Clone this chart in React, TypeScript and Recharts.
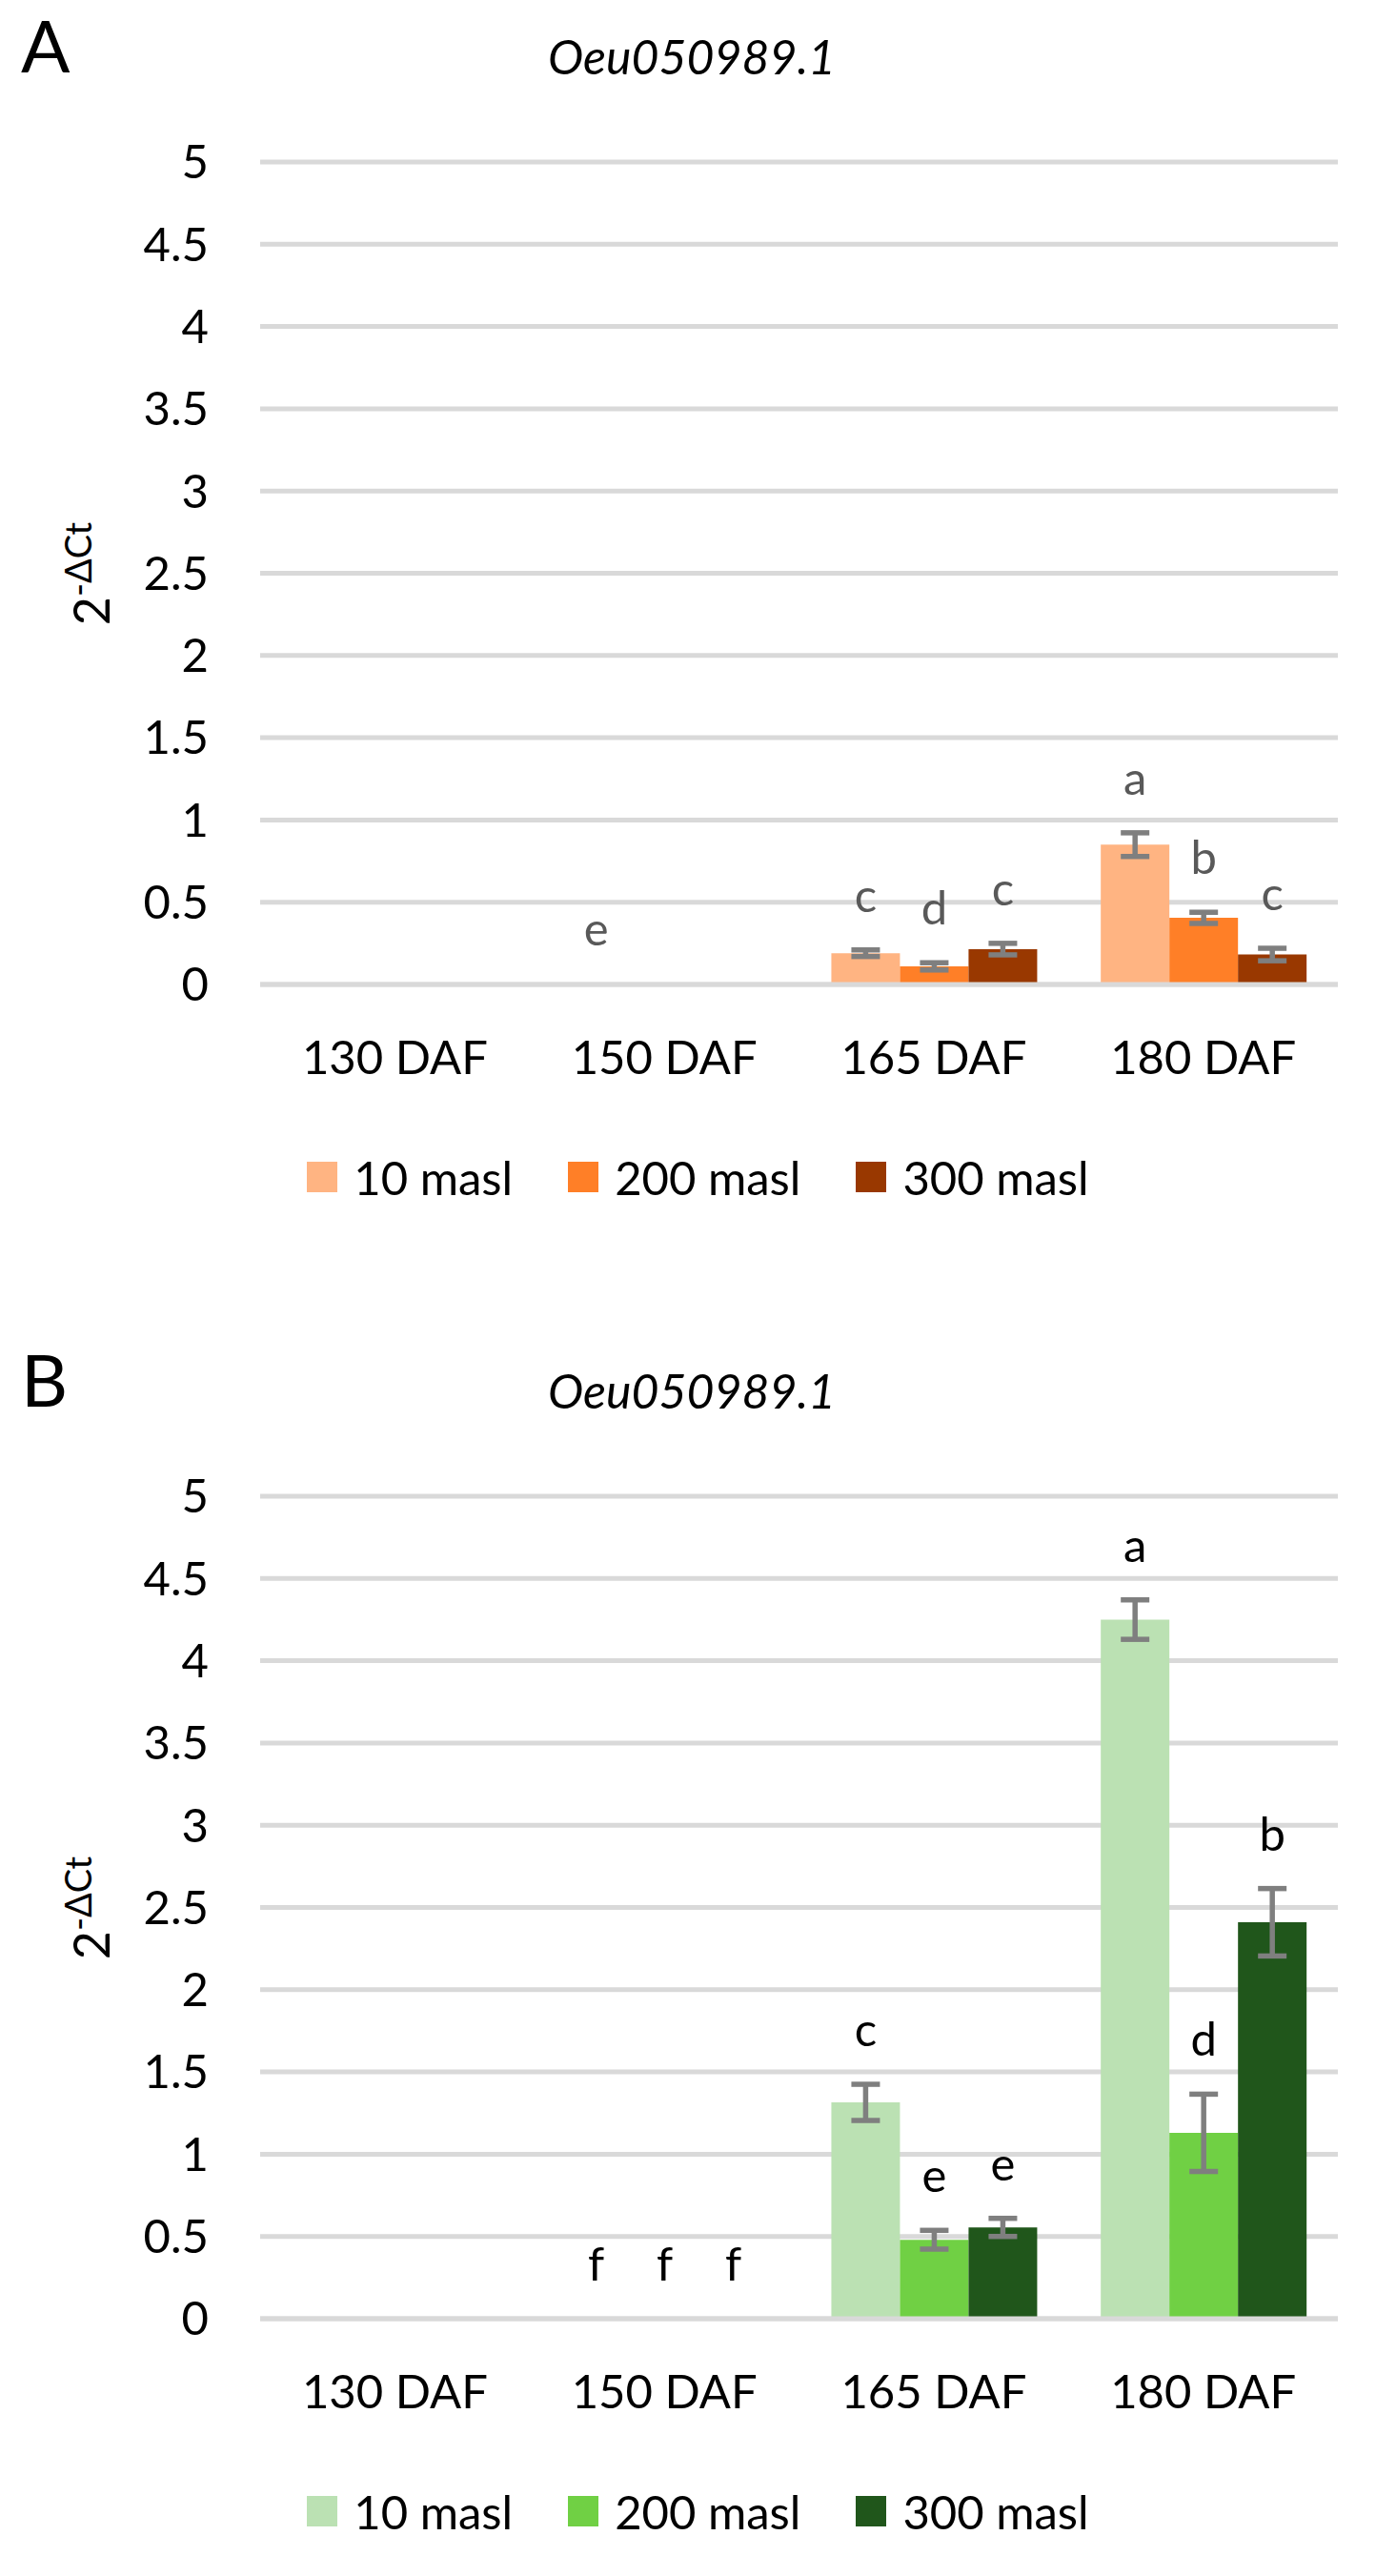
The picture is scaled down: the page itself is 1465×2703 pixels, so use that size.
import React from "react";
import {
  BarChart,
  Bar,
  XAxis,
  YAxis,
  CartesianGrid,
  ErrorBar,
  LabelList,
  Legend,
  ReferenceLine,
} from "recharts";

const CATEGORIES = ["130 DAF", "150 DAF", "165 DAF", "180 DAF"];
const SERIES = ["10 masl", "200 masl", "300 masl"];
const Y_TICKS = [0, 0.5, 1, 1.5, 2, 2.5, 3, 3.5, 4, 4.5, 5];
const GENE = "Oeu050989.1";

// panel A
const A_10 = [0, 0.005, 0.19, 0.85];
const A_10_ERR = [null, null, 0.02, 0.072];
const A_10_LET = ["", "e", "c", "a"];
const A_200 = [0, 0, 0.11, 0.405];
const A_200_ERR = [null, null, 0.022, 0.034];
const A_200_LET = ["", "", "d", "b"];
const A_300 = [0, 0, 0.215, 0.182];
const A_300_ERR = [null, null, 0.035, 0.038];
const A_300_LET = ["", "", "c", "c"];

// panel B
const B_10 = [0, 0, 1.315, 4.25];
const B_10_ERR = [null, null, 0.11, 0.12];
const B_10_LET = ["", "f", "c", "a"];
const B_200 = [0, 0, 0.48, 1.13];
const B_200_ERR = [null, null, 0.057, 0.235];
const B_200_LET = ["", "f", "e", "d"];
const B_300 = [0, 0, 0.555, 2.41];
const B_300_ERR = [null, null, 0.055, 0.205];
const B_300_LET = ["", "f", "e", "b"];

const COLORS_A = ["#FFB482", "#FF7F27", "#993800"];
const COLORS_B = ["#BBE1B3", "#70D044", "#20561B"];

const FONT = "Lato, 'Open Sans', sans-serif";
const FS = 49;

function buildRows(vals: number[][], errs: (number | null)[][], lets: string[][]) {
  return CATEGORIES.map((cat, i) => ({
    cat,
    v0: vals[0][i],
    v1: vals[1][i],
    v2: vals[2][i],
    e0: errs[0][i],
    e1: errs[1][i],
    e2: errs[2][i],
    l0: lets[0][i],
    l1: lets[1][i],
    l2: lets[2][i],
  }));
}

const makeLetter = (errs: (number | null)[], vals: number[], color: string) => (props: any) => {
  const vb = props.viewBox || props;
  const { x, y, width, height } = vb;
  const idx = props.index;
  const letter = props.value;
  if (!letter) return null;
  const v = vals[idx];
  const e = errs[idx] ?? 0;
  const pxPerUnit = v > 0 ? height / v : 0;
  // zero bars get a 1px minPointSize; anchor their letter on the baseline
  const top = v > 0 ? y - e * pxPerUnit : y + height;
  return (
    <text x={x + width / 2} y={top - 40} textAnchor="middle" fontSize={FS} fill={color} fontFamily={FONT}>
      {letter}
    </text>
  );
};

const YLabel = () => (
  <text transform="rotate(-90, 115, 602)" x={115} y={602} textAnchor="middle" fontFamily={FONT} fill="#000">
    <tspan fontSize={52}>2</tspan>
    <tspan fontSize={38} dy={-19}>-ΔCt</tspan>
  </text>
);

const renderLegend = (props: any) => (
  <div style={{ display: "flex", justifyContent: "center", gap: 58, fontFamily: FONT, fontSize: FS }}>
    {(props.payload || []).map((e: any) => (
      <div key={e.value} style={{ display: "flex", alignItems: "center", height: 60 }}>
        <span style={{ width: 32, height: 32, background: e.color, marginRight: 17, display: "inline-block" }} />
        <span style={{ color: "#000", lineHeight: "60px" }}>{e.value}</span>
      </div>
    ))}
  </div>
);

interface PanelProps {
  letter: string;
  rows: any[];
  colors: string[];
  vals: number[][];
  errs: (number | null)[][];
  letterColor: string;
}

function Panel({ letter, rows, colors, vals, errs, letterColor }: PanelProps) {
  return (
    <div style={{ position: "relative", width: 1465, height: 1400 }}>
      <svg width={1465} height={120} style={{ position: "absolute", left: 0, top: 0 }}>
        <text x={22} y={76} fontSize={76} fontFamily={FONT} fill="#000">
          {letter}
        </text>
        <text x={726} y={78} fontSize={50} fontStyle="italic" textAnchor="middle" fontFamily={FONT} fill="#000">
          {GENE}
        </text>
      </svg>
      <BarChart
        width={1465}
        height={1300}
        data={rows}
        margin={{ top: 170, right: 61, left: 173, bottom: 147 }}
        barCategoryGap="12%"
        barGap={0}
        style={{ position: "absolute", left: 0, top: 0 }}
      >
        <CartesianGrid vertical={false} stroke="#d9d9d9" strokeWidth={5} />
        <XAxis
          dataKey="cat"
          axisLine={false}
          tickLine={false}
          tickSize={0}
          tickMargin={59}
          height={120}
          interval={0}
          tick={{ fill: "#000", fontSize: FS, fontFamily: FONT }}
        />
        <YAxis
          domain={[0, 5]}
          ticks={Y_TICKS}
          axisLine={false}
          tickLine={false}
          tickSize={0}
          tickMargin={54}
          width={100}
          tick={{ fill: "#000", fontSize: FS, fontFamily: FONT }}
          label={{ content: YLabel }}
        />
        {[0, 1, 2].map((s) => (
          <Bar
            key={s}
            dataKey={`v${s}`}
            name={SERIES[s]}
            fill={colors[s]}
            minPointSize={1}
            isAnimationActive={false}
          >
            <ErrorBar dataKey={`e${s}`} width={15} strokeWidth={5.5} stroke="#7f7f7f" direction="y" />
            <LabelList dataKey={`l${s}`} content={makeLetter(errs[s], vals[s], letterColor)} />
          </Bar>
        ))}
        <ReferenceLine y={0} stroke="#d9d9d9" strokeWidth={5} />
        <Legend
          verticalAlign="middle"
          align="center"
          layout="horizontal"
          content={renderLegend}
          wrapperStyle={{ top: 1205, left: 0, width: 1465 }}
        />
      </BarChart>
    </div>
  );
}

export default function App() {
  const rowsA = buildRows([A_10, A_200, A_300], [A_10_ERR, A_200_ERR, A_300_ERR], [A_10_LET, A_200_LET, A_300_LET]);
  const rowsB = buildRows([B_10, B_200, B_300], [B_10_ERR, B_200_ERR, B_300_ERR], [B_10_LET, B_200_LET, B_300_LET]);
  return (
    <div style={{ width: 1465, background: "#fff", fontFamily: FONT }}>
      <style>{"body{margin:0;background:#fff}"}</style>
      <Panel
        letter="A"
        rows={rowsA}
        colors={COLORS_A}
        vals={[A_10, A_200, A_300]}
        errs={[A_10_ERR, A_200_ERR, A_300_ERR]}
        letterColor="#595959"
      />
      <Panel
        letter="B"
        rows={rowsB}
        colors={COLORS_B}
        vals={[B_10, B_200, B_300]}
        errs={[B_10_ERR, B_200_ERR, B_300_ERR]}
        letterColor="#000"
      />
    </div>
  );
}
